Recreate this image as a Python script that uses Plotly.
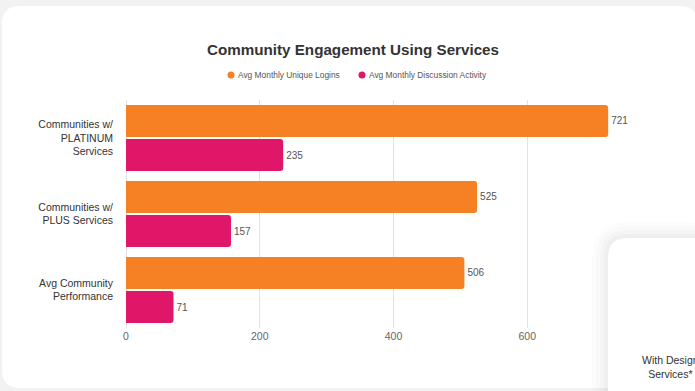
import plotly.graph_objects as go

# ---- data ----
categories = ["Communities w/<br>PLATINUM<br>Services",
              "Communities w/<br>PLUS Services",
              "Avg Community<br>Performance"]
logins_name = "Avg Monthly Unique Logins"
discussion_name = "Avg Monthly Discussion Activity"
logins = [721, 525, 506]
discussion = [235, 157, 71]
x_ticks = [0, 200, 400, 600, 800]

ORANGE = "#F58124"
PINK = "#E01769"
FONT = "Liberation Sans, Arial, sans-serif"

W, H = 695, 391
ML, MR, MT, MB = 126, 34, 100, 63
PW, PH = W - ML - MR, H - MT - MB


def px(x):
    return (x - ML) / PW


def py(y):
    return (H - MB - y) / PH


def rounded_rect(x0, y0, x1, y1, r):
    """SVG path (paper coords) for a rounded rectangle given in pixels."""
    pts = [
        f"M {px(x0 + r)},{py(y0)}",
        f"L {px(x1 - r)},{py(y0)}",
        f"Q {px(x1)},{py(y0)} {px(x1)},{py(y0 + r)}",
        f"L {px(x1)},{py(y1 - r)}",
        f"Q {px(x1)},{py(y1)} {px(x1 - r)},{py(y1)}",
        f"L {px(x0 + r)},{py(y1)}",
        f"Q {px(x0)},{py(y1)} {px(x0)},{py(y1 - r)}",
        f"L {px(x0)},{py(y0 + r)}",
        f"Q {px(x0)},{py(y0)} {px(x0 + r)},{py(y0)}",
        "Z",
    ]
    return " ".join(pts)


fig = go.Figure()
fig.add_trace(go.Bar(
    y=categories, x=logins, name=logins_name, orientation="h",
    marker=dict(color=ORANGE, line=dict(width=0)),
    text=logins, textposition="outside", cliponaxis=False,
    textfont=dict(size=10, color="#555", family=FONT),
    showlegend=False,
))
fig.add_trace(go.Bar(
    y=categories, x=discussion, name=discussion_name, orientation="h",
    marker=dict(color=PINK, line=dict(width=0)),
    text=discussion, textposition="outside", cliponaxis=False,
    textfont=dict(size=10, color="#555", family=FONT),
    showlegend=False,
))

shapes = []
# main card
shapes.append(dict(type="path", xref="paper", yref="paper", layer="below",
                   path=rounded_rect(2, 6, 698, 388, 18),
                   fillcolor="white", line=dict(width=0)))
# overlapping card with soft shadow
for i, a in enumerate([0.010, 0.013, 0.017, 0.024]):
    g = 16 - i * 4
    shapes.append(dict(type="path", xref="paper", yref="paper", layer="above",
                       path=rounded_rect(608 - g, 238 - g, 720, 420, 20 + g),
                       fillcolor=f"rgba(0,0,0,{a})", line=dict(width=0)))
shapes.append(dict(type="path", xref="paper", yref="paper", layer="above",
                   path=rounded_rect(608, 238, 720, 420, 20),
                   fillcolor="white", line=dict(width=0)))

# legend markers
legend_items = [(logins_name, ORANGE, 231), (discussion_name, PINK, 362)]
annotations = []
for name, color, cx in legend_items:
    shapes.append(dict(type="circle", xref="paper", yref="paper",
                       xsizemode="pixel", ysizemode="pixel",
                       xanchor=px(cx), yanchor=py(75),
                       x0=-3.5, x1=3.5, y0=-3.5, y1=3.5,
                       fillcolor=color, line=dict(width=0), layer="above"))
    annotations.append(dict(xref="paper", yref="paper", x=px(cx + 5), y=py(75),
                            xanchor="left", yanchor="middle", showarrow=False,
                            text=name, font=dict(size=8.4, color="#555", family=FONT)))

annotations.append(dict(xref="paper", yref="paper", x=px(670), y=py(367),
                        xanchor="center", yanchor="middle", showarrow=False,
                        text="With Design<br>Services*", align="center",
                        font=dict(size=10.5, color="#333", family=FONT)))

fig.update_layout(
    width=W, height=H,
    margin=dict(l=ML, r=MR, t=MT, b=MB),
    paper_bgcolor="#F2F2F2",
    plot_bgcolor="rgba(0,0,0,0)",
    barmode="group", bargap=0.105, bargroupgap=0.06,
    barcornerradius=3,
    title=dict(text="<b>Community Engagement Using Services</b>",
               xref="container", x=353 / W, xanchor="center",
               yref="container", y=1 - 50 / H, yanchor="middle",
               font=dict(size=15.2, color="#333", family=FONT)),
    showlegend=False,
    shapes=shapes,
    annotations=annotations,
    font=dict(family=FONT),
)
fig.update_xaxes(range=[0, 800], tickvals=x_ticks, ticktext=[str(v) for v in x_ticks],
                 showgrid=True, gridcolor="#E3E3E3", gridwidth=1,
                 zeroline=True, zerolinecolor="#E3E3E3", zerolinewidth=1,
                 showline=False, ticks="",
                 tickfont=dict(size=10.5, color="#666", family=FONT))
fig.update_yaxes(autorange="reversed", showgrid=False, showline=False, ticks="",
                 ticklabelstandoff=12,
                 tickfont=dict(size=10.5, color="#333", family=FONT))

fig.write_html("out.html")
